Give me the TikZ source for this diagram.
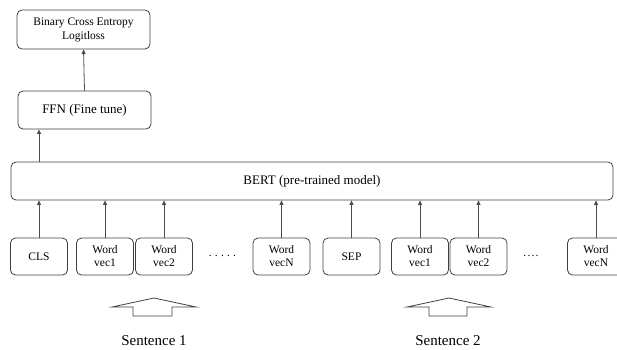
\documentclass[tikz,border=0pt]{standalone}
\usepackage{fontspec}
\setmainfont{Liberation Serif}
\usetikzlibrary{arrows.meta}
\begin{document}
\begin{tikzpicture}[x=1pt,y=-1pt,
  box/.style={draw=black!75, line width=0.8pt, rounded corners=5pt, align=center, inner sep=0pt},
  tok/.style={box, minimum width=57pt, minimum height=37pt, font=\fontsize{11.5}{13}\selectfont},
  arr/.style={draw=black!70, line width=0.8pt, -{Triangle[length=4.5pt,width=4pt]}},
  blockarrow/.style={draw=black!75, line width=0.8pt, fill=white}]
\useasboundingbox (0,0) rectangle (617,349);
% top boxes
\node[box, minimum width=133pt, minimum height=39pt, font=\fontsize{11.5}{14}\selectfont] (bce) at (83.5,29.5) {Binary Cross Entropy\\Logitloss};
\node[box, minimum width=133pt, minimum height=38pt, font=\fontsize{13}{15}\selectfont] (ffn) at (84.5,110) {FFN (Fine tune)};
\node[box, minimum width=602pt, minimum height=38pt, font=\fontsize{13}{15}\selectfont] (bert) at (312,181) {BERT (pre-trained model)};
% token boxes
\node[tok] (cls) at (39,256.5) {CLS};
\node[tok] (wa1) at (105,256.5) {Word\\vec1};
\node[tok] (wa2) at (164,256.5) {Word\\vec2};
\node[tok] (waN) at (281.5,256.5) {Word\\vecN};
\node[tok] (sep) at (351.5,256.5) {SEP};
\node[tok] (wb1) at (420,256.5) {Word\\vec1};
\node[tok] (wb2) at (478.5,256.5) {Word\\vec2};
\node[tok] (wbN) at (596,256.5) {Word\\vecN};
% dots
\node[anchor=base, font=\fontsize{11.5}{13}\selectfont, inner sep=0pt] (dotsa) at (222.5,256) {.\hspace{3.2pt}.\hspace{3.2pt}.\hspace{3.2pt}.\hspace{3.2pt}.};
\node[anchor=base, font=\fontsize{11.5}{13}\selectfont, inner sep=0pt] (dotsb) at (531,256) {.\hspace{1.2pt}.\hspace{1.2pt}.\hspace{1.2pt}.};
% connectors
\foreach \n in {cls,wa1,wa2,waN,sep,wb1,wb2,wbN}
  \draw[arr] (\n.north) -- (\n.north |- bert.south);
\draw[arr] (cls.north |- bert.north) -- (cls.north |- ffn.south);
\draw[arr] (ffn.north) -- (bce.south);
% block arrows
\draw[blockarrow] (133,316) -- (133,307) -- (112,307) -- (154,298) -- (196,307) -- (172,307) -- (172,316) -- cycle;
\draw[blockarrow] (429,316) -- (429,307) -- (407,307) -- (449,298) -- (491,307) -- (467,307) -- (467,316) -- cycle;
% sentence labels
\node[font=\fontsize{15}{17}\selectfont] (s1) at (154,341) {Sentence 1};
\node[font=\fontsize{15}{17}\selectfont] (s2) at (448,341) {Sentence 2};
\end{tikzpicture}
\end{document}
